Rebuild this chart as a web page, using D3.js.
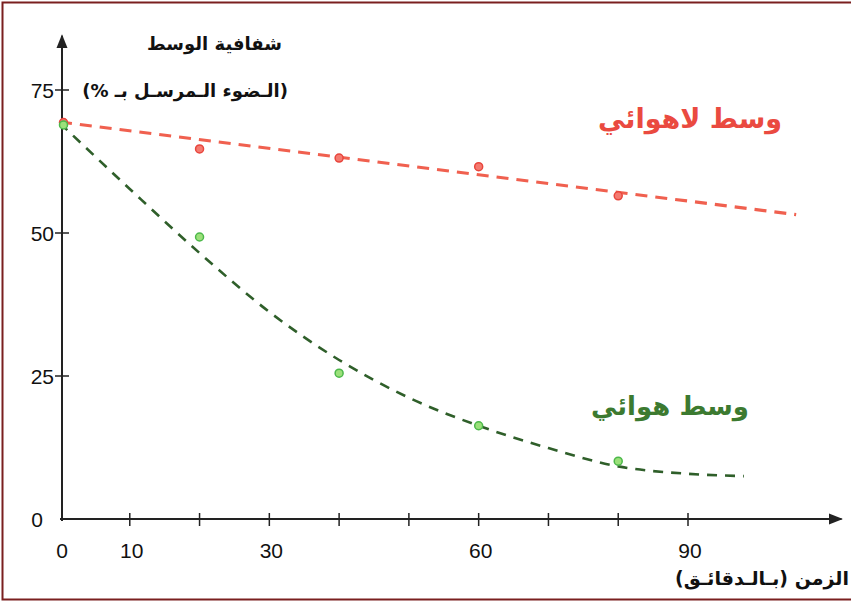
<!DOCTYPE html>
<html>
<head>
<meta charset="utf-8">
<script src="https://cdn.jsdelivr.net/npm/d3@7"></script>
<style>
  body { margin: 0; background: #fff; }
  svg { display: block; }
</style>
</head>
<body>
<div id="chart"></div>
<script>
// time in minutes and measured transparency (%)
const minutes = [0.5, 20, 40, 60, 80];
const anaerobic = [69.3, 64.7, 63.1, 61.6, 56.5];
const aerobic = [68.9, 49.3, 25.5, 16.3, 10.1];

// fitted trend lines
const anaerobicFitT = [0, 105.5];
const anaerobicFitV = [69.4, 53.2];
const aerobicFitT = [0, 10, 20, 30, 40, 50, 60, 70, 80, 90, 98];
const aerobicFitV = [69.2, 57.7, 46.5, 36.2, 27.8, 21.2, 16.3, 12.4, 9.2, 7.9, 7.5];

const xTicks = [10, 20, 30, 40, 50, 60, 70, 80, 90];
const xTickLabels = [0, 10, 30, 60, 90];
const yTicks = [25, 50, 75];

const width = 851, height = 604;
const svg = d3.select("#chart").append("svg")
    .attr("width", width)
    .attr("height", height);

// frame (right side runs off the page like the scan)
svg.append("rect")
    .attr("x", 2.5).attr("y", 2.5)
    .attr("width", width + 10).attr("height", height - 7)
    .attr("fill", "none")
    .attr("stroke", "#7a1f1f")
    .attr("stroke-width", 2);

const x = d3.scaleLinear().domain([0, 90]).range([60, 688]);
const y = d3.scaleLinear().domain([0, 75]).range([519, 90]);

const defs = svg.append("defs");
defs.append("marker")
    .attr("id", "arrow")
    .attr("viewBox", "0 0 10 10")
    .attr("refX", 9).attr("refY", 5)
    .attr("markerWidth", 7).attr("markerHeight", 7)
    .attr("orient", "auto")
    .append("path")
    .attr("d", "M0,1 L10,5 L0,9 Z")
    .attr("fill", "#222");

// axes
svg.append("line")
    .attr("x1", x(0)).attr("y1", y(0))
    .attr("x2", x(112)).attr("y2", y(0))
    .attr("stroke", "#222").attr("stroke-width", 2)
    .attr("marker-end", "url(#arrow)");

svg.append("line")
    .attr("x1", x(0) + 2).attr("y1", y(0) + 2)
    .attr("x2", x(0) + 2).attr("y2", y(84.5))
    .attr("stroke", "#222").attr("stroke-width", 2)
    .attr("marker-end", "url(#arrow)");

svg.selectAll(".xtick")
    .data(xTicks)
    .enter().append("line")
    .attr("x1", d => x(d)).attr("x2", d => x(d))
    .attr("y1", y(0) - 6).attr("y2", y(0) + 7)
    .attr("stroke", "#222").attr("stroke-width", 1.5);

svg.selectAll(".ytick")
    .data(yTicks)
    .enter().append("line")
    .attr("x1", x(0) - 5).attr("x2", x(0) + 9)
    .attr("y1", d => y(d)).attr("y2", d => y(d))
    .attr("stroke", "#222").attr("stroke-width", 1.5);

const numFont = "'Liberation Sans Narrow', 'Liberation Sans', Arial, sans-serif";
svg.selectAll(".xlabel")
    .data(xTickLabels)
    .enter().append("text")
    .attr("x", d => x(d) + 2)
    .attr("y", y(0) + 39)
    .attr("text-anchor", "middle")
    .style("font-family", numFont)
    .style("font-size", "21px")
    .attr("fill", "#111")
    .text(d => d);

svg.selectAll(".ylabel")
    .data([0, ...yTicks])
    .enter().append("text")
    .attr("x", d => d === 0 ? 43 : 54)
    .attr("y", d => y(d) + 8)
    .attr("text-anchor", "end")
    .style("font-family", numFont)
    .style("font-size", "21px")
    .attr("fill", "#111")
    .text(d => d);

// axis titles (direction rtl: text-anchor start puts the right edge at x)
const arabicFont = "'DejaVu Sans', sans-serif";
svg.append("text")
    .attr("x", 282).attr("y", 50)
    .attr("text-anchor", "start")
    .attr("direction", "rtl")
    .style("font-family", arabicFont)
    .style("font-size", "18px")
    .style("font-weight", "bold")
    .attr("fill", "#111")
    .text("شفافية الوسط");

svg.append("text")
    .attr("x", 288).attr("y", 97)
    .attr("text-anchor", "start")
    .attr("direction", "rtl")
    .style("font-family", arabicFont)
    .style("font-size", "18px")
    .style("font-weight", "bold")
    .attr("fill", "#111")
    .text("(الـضوء الـمرسـل بـ %)");

svg.append("text")
    .attr("x", 849).attr("y", 585)
    .attr("text-anchor", "start")
    .attr("direction", "rtl")
    .style("font-family", arabicFont)
    .style("font-size", "19px")
    .style("font-weight", "bold")
    .attr("fill", "#111")
    .text("الزمن (بـالـدقائـق)");

// trend lines
const line = d3.line().x(d => x(d[0])).y(d => y(d[1]));

svg.append("path")
    .datum(d3.zip(anaerobicFitT, anaerobicFitV))
    .attr("d", line)
    .attr("fill", "none")
    .attr("stroke", "#f0604f")
    .attr("stroke-width", 3.2)
    .attr("stroke-dasharray", "12,8");

svg.append("path")
    .datum(d3.zip(aerobicFitT, aerobicFitV))
    .attr("d", line.curve(d3.curveMonotoneX))
    .attr("fill", "none")
    .attr("stroke", "#2f5f2a")
    .attr("stroke-width", 2.6)
    .attr("stroke-dasharray", "10,8");

// measured points
svg.selectAll(".redpt")
    .data(d3.zip(minutes, anaerobic))
    .enter().append("circle")
    .attr("cx", d => x(d[0]))
    .attr("cy", d => y(d[1]))
    .attr("r", 4)
    .attr("fill", "#f47a70")
    .attr("stroke", "#e8453c")
    .attr("stroke-width", 1.5);

svg.selectAll(".greenpt")
    .data(d3.zip(minutes, aerobic))
    .enter().append("circle")
    .attr("cx", d => x(d[0]))
    .attr("cy", d => y(d[1]))
    .attr("r", 4)
    .attr("fill", "#9be07a")
    .attr("stroke", "#4cb84a")
    .attr("stroke-width", 1.5);

// series labels
svg.append("text")
    .attr("x", 690).attr("y", 128)
    .attr("text-anchor", "middle")
    .attr("direction", "rtl")
    .style("font-family", arabicFont)
    .style("font-size", "27px")
    .style("font-weight", "bold")
    .attr("fill", "#ea4a40")
    .text("وسط لاهوائي");

svg.append("text")
    .attr("x", 670).attr("y", 415)
    .attr("text-anchor", "middle")
    .attr("direction", "rtl")
    .style("font-family", arabicFont)
    .style("font-size", "26px")
    .style("font-weight", "bold")
    .attr("fill", "#3c7a30")
    .text("وسط هوائي");
</script>
</body>
</html>
